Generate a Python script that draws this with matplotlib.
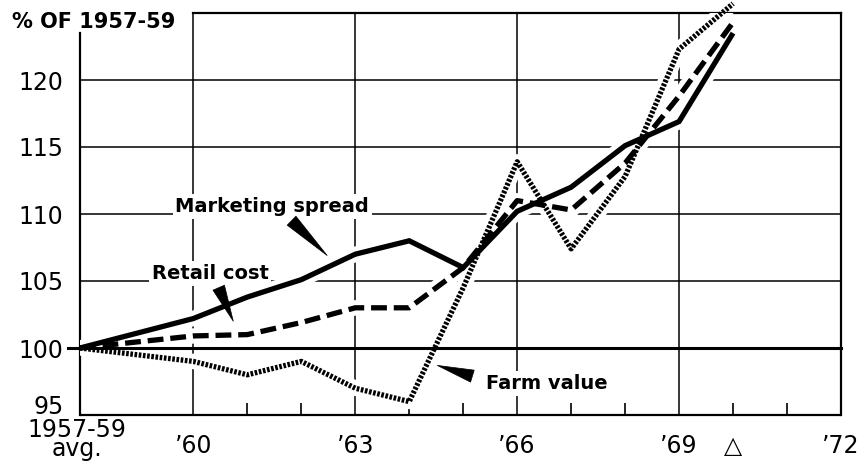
import matplotlib
matplotlib.use("Agg")
import matplotlib.pyplot as plt

# ---- data ----
period_x = [1957.9, 1960, 1961, 1962, 1963, 1964, 1965, 1966, 1967, 1968, 1969, 1970]
marketing_spread = [100, 102.2, 103.8, 105.1, 107.0, 108.0, 106.0, 110.2, 112.0, 115.1, 116.9, 123.5]
retail_cost = [100, 100.9, 101.0, 101.9, 103.0, 103.0, 106.0, 111.0, 110.3, 113.8, 118.8, 124.3]
farm_value = [100, 99.0, 98.0, 99.0, 97.0, 96.0, 104.5, 113.9, 107.4, 112.8, 122.3, 125.7]

ytick_vals = [95, 100, 105, 110, 115, 120]
ytick_labels = ["95", "100", "105", "110", "115", "120"]
xtick_vals = [1960, 1963, 1966, 1969, 1970, 1972]
xtick_labels = ["\u201960", "\u201963", "\u201966", "\u201969", "\u25b3", "\u201972"]
minor_years = [1961, 1962, 1964, 1965, 1967, 1968, 1970, 1971]
grid_years = [1960, 1963, 1966, 1969]
grid_levels = [105, 110, 115, 120]
base_label = "1957-59\navg."
title = "% OF 1957-59"

XMIN, XMAX, YMIN, YMAX = 1957.9, 1972, 95, 125

fig = plt.figure(figsize=(8.64, 4.76), dpi=100)
ax = fig.add_axes([80 / 864, 61 / 476, 761 / 864, 402 / 476])
ax.set_xlim(XMIN, XMAX)
ax.set_ylim(YMIN, YMAX)
for s in ax.spines.values():
    s.set_visible(False)

K = "black"
# frame (partial top and left, as in the original)
ax.plot([XMIN, XMAX], [YMIN, YMIN], color=K, lw=1.6, clip_on=False, zorder=1, solid_capstyle="butt")
ax.plot([XMAX, XMAX], [YMIN, YMAX], color=K, lw=1.6, clip_on=False, zorder=1)
ax.plot([1960, XMAX], [YMAX, YMAX], color=K, lw=1.6, clip_on=False, zorder=1)
ax.plot([XMIN, XMIN], [YMIN, 123.5], color=K, lw=1.6, clip_on=False, zorder=1)

# grid
for g in grid_levels:
    ax.axhline(g, color=K, lw=1.1, zorder=1)
for g in grid_years:
    ax.axvline(g, color=K, lw=1.1, zorder=1)

series = [
    (marketing_spread, dict(linestyle="-")),
    (retail_cost, dict(linestyle=(0, (3.0, 1.3)))),
    (farm_value, dict(linestyle=(0, (0.5, 0.3)))),
]
# white halos first so that the grid breaks around the curves
for vals, _ in series:
    ax.plot(period_x, vals, color="white", lw=11, zorder=2, solid_capstyle="butt")
# 100 reference line (heavy, extends left to the label)
ax.plot([XMIN - 0.22, XMAX], [100, 100], color=K, lw=2.2, clip_on=False, zorder=2.5)
for vals, st in series:
    ax.plot(period_x, vals, color=K, lw=3.8, zorder=3, solid_joinstyle="miter",
            dash_capstyle="butt", solid_capstyle="butt", clip_on=False, **st)

# ticks
tick_font = dict(family="DejaVu Sans", size=17)
ax.set_yticks(ytick_vals[1:])
ax.set_yticklabels(ytick_labels[1:], fontdict=tick_font)
ax.tick_params(axis="y", length=0, pad=12)
ax.annotate(ytick_labels[0], xy=(0, ytick_vals[0]), xycoords=("axes fraction", "data"),
            xytext=(-12, 1), textcoords="offset points", ha="right", va="baseline",
            **tick_font)
ax.set_xticks(xtick_vals)
ax.set_xticklabels(xtick_labels, fontdict=tick_font)
ax.tick_params(axis="x", which="major", length=0, pad=14)
ax.set_xticks(minor_years, minor=True)
ax.xaxis.remove_overlapping_locs = False
ax.tick_params(axis="x", which="minor", direction="in", length=9, width=1.2, color=K)
ax.annotate(base_label, xy=(XMIN, 0), xycoords=("data", "axes fraction"),
            xytext=(-2, -2), textcoords="offset points", ha="center", va="top",
            fontsize=17, linespacing=0.75)

# title
fig.text(12 / 864, 1 - 22 / 476, title, fontsize=15, fontweight="bold", va="center", ha="left")

# labels with pointers
lab = dict(fontsize=14, fontweight="bold", color=K, zorder=4,
           bbox=dict(facecolor="white", edgecolor="none", pad=2))
ax.text(1961.46, 110.15, "Marketing spread", ha="center", va="baseline", **lab)
ax.text(1960.31, 105.15, "Retail cost", ha="center", va="baseline", **lab)
ax.text(1966.55, 96.95, "Farm value", ha="center", va="baseline", **lab)

wedge = dict(arrowstyle="wedge,tail_width=0.9,shrink_factor=0.5", fc=K, ec=K, lw=0.5,
             shrinkA=0, shrinkB=0)
ax.annotate("", xy=(1962.48, 106.9), xytext=(1961.82, 109.5), arrowprops=wedge, zorder=4)
ax.annotate("", xy=(1960.74, 102.0), xytext=(1960.47, 104.5), arrowprops=wedge, zorder=4)
ax.annotate("", xy=(1964.52, 98.7), xytext=(1965.17, 97.9), arrowprops=wedge, zorder=4)

fig.savefig("out.png", dpi=100)
